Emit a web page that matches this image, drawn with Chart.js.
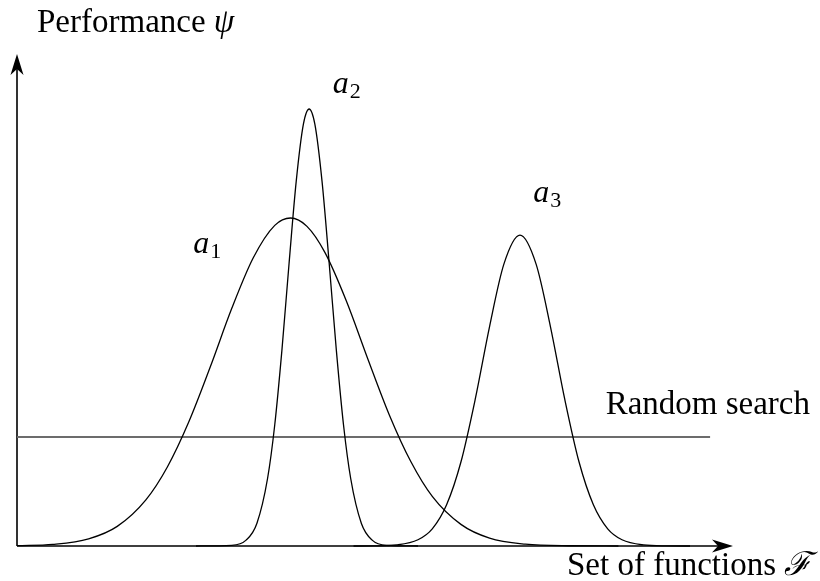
<!DOCTYPE html>
<html>
<head>
<meta charset="utf-8">
<script src="https://cdn.jsdelivr.net/npm/chart.js@4/dist/chart.umd.min.js"></script>
<style>
  html, body { margin: 0; padding: 0; background: #fff; }
  canvas { display: block; }
</style>
</head>
<body>
<canvas id="perfChart" width="820" height="581"></canvas>
<script>
// curve samples (x = position in function space, y = performance)
const a1X = [0, 5, 10, 14, 18, 21, 24, 27, 30, 33, 36, 38.2, 40.5, 43, 46, 49, 52, 55, 58, 62, 66, 71, 77, 84];
const a1Y = [0.06, 0.33, 1.46, 4.0, 9.4, 16.1, 25.3, 36.5, 48.4, 58.7, 65.3, 66.8, 65.1, 59.8, 49.9, 38.1, 26.7, 17.2, 10.1, 4.4, 1.6, 0.38, 0.05, 0];

const a2X = [25, 30, 32, 33.5, 35, 36, 37, 38, 39, 40, 40.8, 41.6, 42.6, 43.6, 44.6, 45.6, 46.6, 48.1, 49.6, 51.6, 56];
const a2Y = [0, 0.14, 1.2, 4.6, 13.8, 24.7, 39.9, 57.6, 74.3, 85.9, 89.0, 85.9, 74.3, 57.6, 39.9, 24.7, 13.8, 4.6, 1.2, 0.14, 0];

const a3X = [47, 50, 53, 56, 58, 60, 62, 64, 66, 68, 70.25, 72.5, 74.5, 76.5, 78.5, 80.5, 82.5, 84.5, 87.5, 90.5, 94];
const a3Y = [0, 0.02, 0.21, 1.27, 3.5, 8.4, 17.1, 29.9, 44.7, 57.4, 63.3, 57.4, 44.7, 29.9, 17.1, 8.4, 3.5, 1.27, 0.21, 0.02, 0];

const randomX = [0, 96.8];
const randomY = [22.2, 22.2];

// label text and where it sits (data units)
const curveNames = ["1", "2", "3"];
const curveLabelX = [24.6, 44.1, 72.1];
const curveLabelY = [59.7, 92.3, 70.1];

const serif = '"Liberation Serif", "DejaVu Serif", serif';

function toPoints(xs, ys) {
  return xs.map((x, i) => ({ x: x, y: ys[i] }));
}

function curve(xs, ys) {
  return {
    data: toPoints(xs, ys),
    borderColor: "#000",
    borderWidth: 1.3,
    pointRadius: 0,
    cubicInterpolationMode: "monotone",
    clip: false
  };
}

function arrowHead(ctx, x, y, angle) {
  ctx.save();
  ctx.translate(x, y);
  ctx.rotate(angle);
  ctx.beginPath();
  ctx.moveTo(0, 0);
  ctx.lineTo(-21, -6.5);
  ctx.lineTo(-15, 0);
  ctx.lineTo(-21, 6.5);
  ctx.closePath();
  ctx.fillStyle = "#000";
  ctx.fill();
  ctx.restore();
}

// axes with arrows + text
const decorations = {
  id: "decorations",
  beforeDatasetsDraw(chart) {
    const { ctx, chartArea } = chart;
    const left = chartArea.left, bottom = chartArea.bottom;
    const right = chartArea.right, top = chartArea.top;
    ctx.save();
    ctx.strokeStyle = "#000";
    ctx.lineWidth = 1.6;
    ctx.beginPath();
    ctx.moveTo(left, bottom);
    ctx.lineTo(left, top + 8);
    ctx.moveTo(left, bottom);
    ctx.lineTo(right - 8, bottom);
    ctx.stroke();
    arrowHead(ctx, left, top - 1, -Math.PI / 2);
    arrowHead(ctx, right, bottom, 0);
    ctx.restore();
  },
  afterDatasetsDraw(chart) {
    const { ctx } = chart;
    const xs = chart.scales.x, ys = chart.scales.y;
    ctx.save();
    ctx.fillStyle = "#000";
    ctx.textBaseline = "alphabetic";
    ctx.textAlign = "left";

    // y axis title
    ctx.font = "33px " + serif;
    ctx.fillText("Performance ", 37, 32);
    let w = ctx.measureText("Performance ").width;
    ctx.font = "italic 33px " + serif;
    ctx.fillText("ψ", 37 + w, 32);

    // x axis title
    ctx.font = "33px " + serif;
    ctx.fillText("Set of functions ", 567, 575);
    w = ctx.measureText("Set of functions ").width;
    ctx.font = "italic 33px " + serif;
    ctx.fillText("ℱ", 567 + w, 575);

    // random search label
    ctx.font = "33px " + serif;
    ctx.textAlign = "right";
    ctx.fillText("Random search", 810, ys.getPixelForValue(randomY[0]) - 23);
    ctx.textAlign = "left";

    // a_i labels
    curveNames.forEach((n, i) => {
      const px = xs.getPixelForValue(curveLabelX[i]);
      const py = ys.getPixelForValue(curveLabelY[i]);
      ctx.font = "italic 32px " + serif;
      ctx.fillText("a", px, py);
      const aw = ctx.measureText("a").width;
      ctx.font = "22px " + serif;
      ctx.fillText(n, px + aw + 1, py + 5);
    });
    ctx.restore();
  }
};

new Chart(document.getElementById("perfChart"), {
  type: "line",
  data: {
    datasets: [
      curve(a1X, a1Y),
      curve(a2X, a2Y),
      curve(a3X, a3Y),
      {
        data: toPoints(randomX, randomY),
        borderColor: "#6c6c6c",
        borderWidth: 1.8,
        pointRadius: 0,
        clip: false
      }
    ]
  },
  options: {
    responsive: false,
    animation: false,
    devicePixelRatio: 1,
    layout: { padding: { left: 17, right: 87, top: 55, bottom: 35 } },
    plugins: { legend: { display: false }, tooltip: { enabled: false } },
    scales: {
      x: { type: "linear", min: 0, max: 100, display: false },
      y: { min: 0, max: 100, display: false }
    }
  },
  plugins: [decorations]
});
</script>
</body>
</html>
